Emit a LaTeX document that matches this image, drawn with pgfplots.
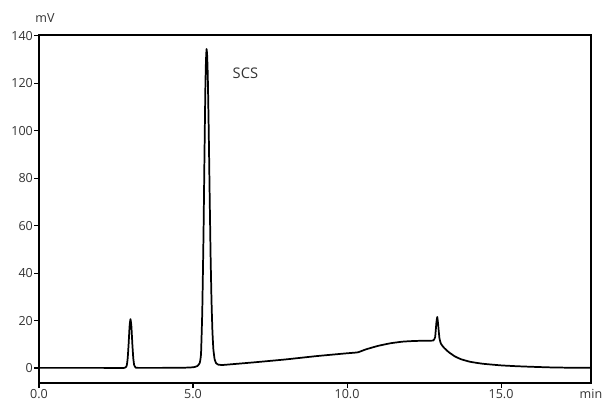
\documentclass[border=0pt]{standalone}
\usepackage{pgfplots}
\pgfplotsset{compat=1.18}
\usepackage{fontspec}
\setmainfont{Open Sans}
\definecolor{txt}{HTML}{333333}
\begin{document}
\begin{tikzpicture}
\useasboundingbox (0,0) rectangle (452.25pt,302.25pt);
\begin{axis}[
  at={(29.25pt,15pt)}, anchor=south west,
  scale only axis, width=414pt, height=261pt,
  xmin=0, xmax=17.92, ymin=-6.33, ymax=140.4,
  axis line style={line width=1.1pt, black},
  xtick={0,5,10,15}, xticklabels={0.0,5.0,10.0,15.0},
  ytick={0,20,40,60,80,100,120,140},
  tick align=outside, major tick length=3.4pt,
  tick style={line width=0.8pt, black},
  xtick pos=bottom, ytick pos=left,
  /pgf/number format/assume math mode=true,
  ticklabel style={font=\fontsize{9.4}{11}\selectfont, text=txt},
  yticklabel style={inner sep=1pt},
  xticklabel style={inner sep=1.5pt},
  xlabel={min}, ylabel={mV},
  xlabel style={at={(rel axis cs:1,0)}, anchor=north, font=\fontsize{9.4}{11}\selectfont, text=txt, yshift=-3pt, inner sep=1.5pt},
  ylabel style={at={(rel axis cs:0,1)}, rotate=-90, anchor=center, font=\fontsize{9.4}{11}\selectfont, text=txt, xshift=4.5pt, yshift=12.4pt, inner sep=0pt},
  clip=false,
]
\addplot[black, line width=1.3pt, line join=round, smooth, tension=0.25] coordinates {
(0,0.05) (1.0,0.05) (2.0,0.05) (2.78,0.05) (2.85,1.2) (2.88,4.2) (2.91,10.2) (2.94,17.5) (2.97,20.6) (3.00,17.5) (3.03,10.2) (3.06,4.2) (3.09,1.2) (3.14,0.15) (3.22,0.05)
(4.0,0.05) (4.6,0.1) (4.9,0.2) (5.05,0.4) (5.15,0.9) (5.22,2.2) (5.26,6) (5.30,23.7) (5.34,55.7) (5.37,87.6) (5.40,117.5) (5.42,129.5) (5.44,134.5)
(5.46,131.5) (5.48,122.8) (5.51,100.2) (5.54,73.1) (5.57,47.8) (5.60,28.5) (5.63,15.5) (5.66,8.0) (5.70,3.8) (5.75,2.0) (5.82,1.4) (5.90,1.3) (6.0,1.3)
(7.0,2.4) (8.0,3.6) (9.0,5.0) (10.0,6.2) (10.35,6.6) (10.6,7.8) (11.0,9.3) (11.4,10.4) (11.8,11.1) (12.2,11.4) (12.6,11.5) (12.8,11.6)
(12.86,13) (12.90,19) (12.93,21.5) (12.96,18) (13.00,12.5) (13.05,10.2) (13.15,8.5) (13.3,6.7) (13.5,4.9) (13.7,3.7) (14.0,2.6) (14.4,1.8)
(15.0,1.1) (15.5,0.75) (16.0,0.5) (16.6,0.25) (17.2,0.12) (17.92,0.08)
};
\node[font=\fontsize{11}{13}\selectfont, text=txt] at (axis cs:6.7,124.4) {SCS};
\end{axis}
\end{tikzpicture}
\end{document}
